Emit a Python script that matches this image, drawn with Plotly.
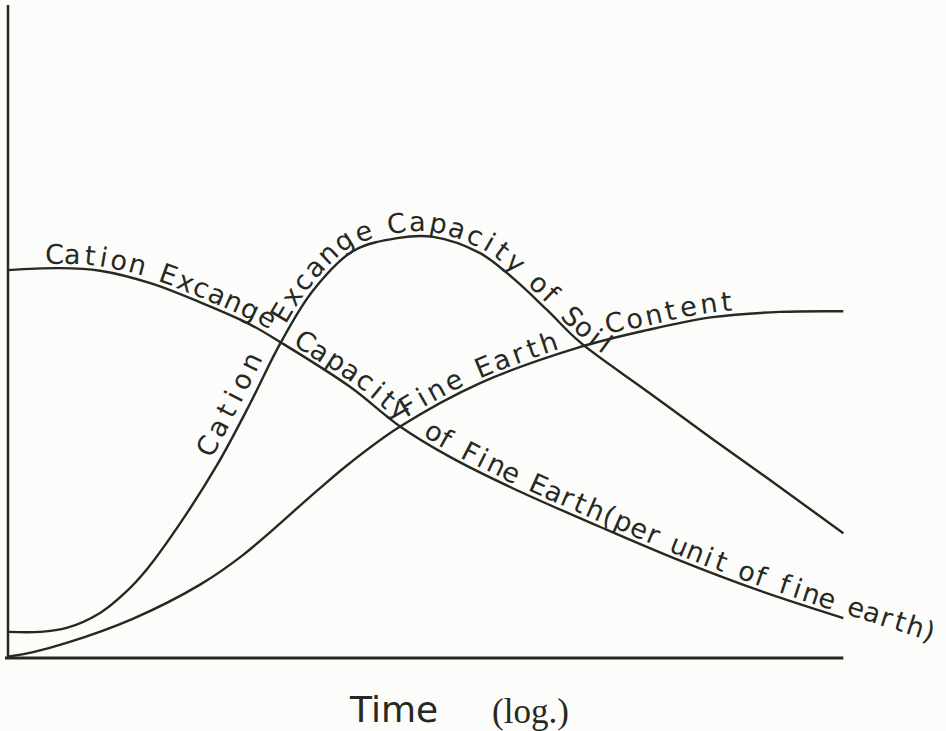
import math
import bisect
import plotly.graph_objects as go

# ---------------- chart values (time: log scale, 0-10 units; level: 0-10 units) -------------
cec_fine_earth_time = [0.00, 0.62, 1.10, 1.70, 2.29, 2.89, 3.25, 4.09, 4.68, 5.28, 6.03, 7.07, 8.03, 8.98, 9.98]
cec_fine_earth_level = [5.94, 5.97, 5.93, 5.74, 5.45, 5.11, 4.84, 4.15, 3.55, 3.08, 2.60, 2.01, 1.49, 1.03, 0.61]

cec_soil_time = [0.00, 0.38, 0.70, 1.10, 1.40, 1.66, 2.05, 2.50, 2.89, 3.25, 3.64, 4.12, 4.65, 5.08,
                 5.64, 6.03, 6.44, 6.83, 7.63, 8.42, 9.10, 9.98]
cec_soil_level = [0.40, 0.40, 0.46, 0.69, 1.00, 1.36, 2.05, 2.96, 3.89, 4.81, 5.62, 6.23, 6.43, 6.45,
                  6.20, 5.82, 5.33, 4.84, 4.09, 3.35, 2.73, 1.91]

fine_earth_time = [0.00, 0.30, 0.70, 1.49, 2.29, 2.81, 3.69, 4.09, 4.68, 5.64, 6.83, 7.63, 8.42, 9.22, 9.98]
fine_earth_level = [0.02, 0.09, 0.23, 0.60, 1.12, 1.58, 2.56, 2.99, 3.54, 4.21, 4.76, 5.02, 5.22, 5.30, 5.31]

x_axis_title = "Time"
x_axis_note = "(log.)"

# curve labels: text, curve, start / end time where the lettering runs along the curve
curve_labels = [
    ("Cation Excange", "fine", 0.44, 3.11),
    ("Capacity", "fine", 3.37, 4.66),
    ("of Fine Earth(per unit of fine earth)", "fine", 4.92, 11.04),
    ("Cation", "soil", 2.50, 3.15),
    ("Excange Capacity of Soil", "soil", 3.36, 7.11),
    ("Fine Earth", "earth", 4.77, 6.62),
    ("Content", "earth", 7.17, 8.69),
]
label_gap = {"Cation": 18}

# ---------------- style / layout constants ----------------
FONT = "DejaVu Sans"
SERIF = "Liberation Serif"
INK = "#262922"
PAPER = "#fcfcfa"
W, H = 946, 731
PX0, PY0 = 8.0, 658.0     # pixel position of the chart origin
SX, SY = 83.7, 65.3       # pixels per chart unit
LABEL_SIZE = 27
DEFAULT_OFF = 14


def to_px(x, y):
    return PX0 + x * SX, PY0 - y * SY


def to_data(px, py):
    return (px - PX0) / SX, (PY0 - py) / SY


def dense_path(xs, ys, n=30, extend=160):
    P = [to_px(x, y) for x, y in zip(xs, ys)]
    out = []
    for i in range(len(P) - 1):
        p0 = P[i - 1] if i > 0 else P[i]
        p1, p2 = P[i], P[i + 1]
        p3 = P[i + 2] if i + 2 < len(P) else P[i + 1]
        for k in range(n):
            t = k / n
            t2, t3 = t * t, t * t * t
            pt = []
            for d in range(2):
                pt.append(0.5 * (2 * p1[d] + (-p0[d] + p2[d]) * t
                                 + (2 * p0[d] - 5 * p1[d] + 4 * p2[d] - p3[d]) * t2
                                 + (-p0[d] + 3 * p1[d] - 3 * p2[d] + p3[d]) * t3))
            out.append(tuple(pt))
    out.append(P[-1])
    # straight continuation past the end (lettering runs beyond the line)
    a, b = out[-8], out[-1]
    L = math.hypot(b[0] - a[0], b[1] - a[1])
    dx, dy = (b[0] - a[0]) / L, (b[1] - a[1]) / L
    for k in range(1, int(extend / 4) + 1):
        out.append((b[0] + dx * 4 * k, b[1] + dy * 4 * k))
    cum = [0.0]
    for i in range(1, len(out)):
        cum.append(cum[-1] + math.hypot(out[i][0] - out[i - 1][0], out[i][1] - out[i - 1][1]))
    return out, cum


def s_at_px(path, cum, px):
    for i in range(len(path) - 1):
        x0, x1 = path[i][0], path[i + 1][0]
        if (x0 - px) * (x1 - px) <= 0 and x0 != x1:
            f = (px - x0) / (x1 - x0)
            return cum[i] + f * (cum[i + 1] - cum[i])
    return cum[-1]


def pos_at(path, cum, s):
    s = max(0.0, min(cum[-1], s))
    i = bisect.bisect_right(cum, s) - 1
    i = min(i, len(path) - 2)
    seg = cum[i + 1] - cum[i]
    f = 0 if seg == 0 else (s - cum[i]) / seg
    return (path[i][0] + f * (path[i + 1][0] - path[i][0]),
            path[i][1] + f * (path[i + 1][1] - path[i][1]))


def tangent_at(path, cum, s, h=7.0):
    a = pos_at(path, cum, s - h)
    b = pos_at(path, cum, s + h)
    L = math.hypot(b[0] - a[0], b[1] - a[1]) or 1.0
    return (b[0] - a[0]) / L, (b[1] - a[1]) / L


WID = {' ': 0.32, 'C': 0.70, 'a': 0.61, 't': 0.39, 'i': 0.28, 'o': 0.61, 'n': 0.63, 'E': 0.63,
       'x': 0.59, 'c': 0.55, 'g': 0.64, 'e': 0.62, 'p': 0.64, 'y': 0.59, 'f': 0.35, 'S': 0.64,
       'l': 0.28, 'F': 0.58, 'r': 0.41, 'h': 0.63, 'u': 0.63, '(': 0.39, ')': 0.39}


def eff_width(c):
    w = WID.get(c, 0.6)
    return 0.6 * w + 0.4 * 0.6 + 0.1


curves = {
    "fine": (cec_fine_earth_time, cec_fine_earth_level),
    "soil": (cec_soil_time, cec_soil_level),
    "earth": (fine_earth_time, fine_earth_level),
}
paths = {k: dense_path(*v) for k, v in curves.items()}

fig = go.Figure()
for key in ["fine", "soil", "earth"]:
    xs, ys = curves[key]
    fig.add_trace(go.Scatter(x=xs, y=ys, mode="lines",
                             line=dict(color=INK, width=2.4, shape="spline", smoothing=1.0),
                             hoverinfo="skip"))

annotations = []
for text, key, t0, t1 in curve_labels:
    path, cum = paths[key]
    s0 = s_at_px(path, cum, PX0 + t0 * SX)
    s1 = s_at_px(path, cum, PX0 + t1 * SX)
    widths = [eff_width(c) for c in text]
    total = sum(widths)
    off = label_gap.get(text, DEFAULT_OFF)
    acc = 0.0
    for c, w in zip(text, widths):
        mid = acc + w / 2
        acc += w
        if c == ' ':
            continue
        s = s0 + (s1 - s0) * mid / total
        p = pos_at(path, cum, s)
        tx, ty = tangent_at(path, cum, s)
        ux, uy = ty, -tx          # "up" side of the lettering
        cx, cy = p[0] + off * ux, p[1] + off * uy
        dx_, dy_ = to_data(cx, cy)
        ang = math.degrees(math.atan2(ty, tx))
        annotations.append(dict(x=dx_, y=dy_, xref="x", yref="y", text=c, showarrow=False,
                                textangle=ang, xanchor="center", yanchor="middle",
                                font=dict(family=FONT, size=LABEL_SIZE, color=INK)))

tx_, ty_ = to_data(393, 709)
annotations.append(dict(x=tx_, y=ty_, xref="x", yref="y", text=x_axis_title, showarrow=False,
                        xanchor="center", yanchor="middle",
                        font=dict(family=FONT, size=36, color=INK)))
nx_, ny_ = to_data(530, 711)
annotations.append(dict(x=nx_, y=ny_, xref="x", yref="y", text=x_axis_note, showarrow=False,
                        xanchor="center", yanchor="middle",
                        font=dict(family=SERIF, size=35, color=INK)))

# axis lines
ytop = to_data(PX0, 5)[1]
xleft = to_data(5, PY0)[0]
shapes = [
    dict(type="line", xref="x", yref="y", x0=0, x1=0, y0=0, y1=ytop, line=dict(color=INK, width=2.5)),
    dict(type="line", xref="x", yref="y", x0=xleft, x1=cec_fine_earth_time[-1], y0=0, y1=0,
         line=dict(color=INK, width=3)),
]

xr = [to_data(0, 0)[0], to_data(W, 0)[0]]
yr = [to_data(0, H)[1], to_data(0, 0)[1]]
fig.update_layout(
    width=W, height=H, autosize=False,
    margin=dict(l=0, r=0, t=0, b=0),
    paper_bgcolor=PAPER, plot_bgcolor=PAPER,
    showlegend=False,
    xaxis=dict(range=xr, visible=False, fixedrange=True),
    yaxis=dict(range=yr, visible=False, fixedrange=True),
    annotations=annotations,
    shapes=shapes,
)
fig.write_html("out.html", config={"displayModeBar": False, "staticPlot": True},
               post_script="document.body.style.margin='0px';")
